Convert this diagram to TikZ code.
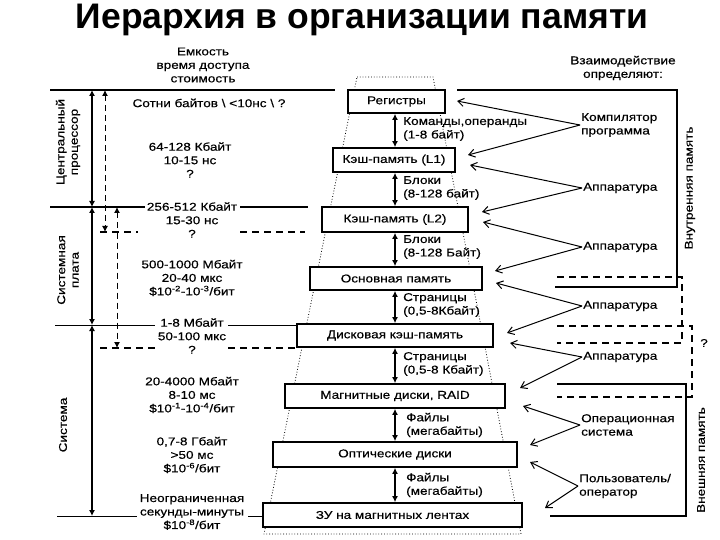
\documentclass[tikz,border=0pt]{standalone}
\usepackage{fontspec}
\setmainfont{Liberation Sans}
\newfontfamily\widefont[FakeStretch=1.2,FakeBold=0.4]{Liberation Sans}
\usetikzlibrary{arrows.meta}
\tikzset{
  base/.style={font=\widefont\fontsize{11.3}{13.5}\selectfont},
  membox/.style={base, draw, line width=1.8pt, fill=white, inner sep=0pt},
  lab/.style={base, align=center, inner sep=1pt},
  llab/.style={base, align=left, anchor=west, inner sep=1pt},
  dbl/.style={line width=1.1pt, {Latex[length=6pt,width=6pt]}-{Latex[length=6pt,width=6pt]}},
  dupar/.style={line width=1pt, dash pattern=on 6pt off 4pt, {Latex[length=6pt,width=6pt]}-{Latex[length=6pt,width=6pt]}},
  rar/.style={line width=1pt, -{Straight Barb[length=6pt,width=8pt]}},
  thickline/.style={line width=1.6pt},
  thinline/.style={line width=0.9pt},
  dline/.style={line width=1.3pt, dash pattern=on 7pt off 5pt},
  trap/.style={line width=0.8pt, dotted},
}
\begin{document}
\begin{tikzpicture}[x=1pt,y=-1pt]
\useasboundingbox (0,0) rectangle (720,540);

% title
\node[font=\fontsize{35.5}{38}\bfseries\selectfont] (title) at (362,20) {Иерархия в организации памяти};

% headers
\node[lab] (hdrL) at (203,65) {Емкость\\время доступа\\стоимость};
\node[lab] (hdrR) at (623,68) {Взаимодействие\\определяют:};

% dotted trapezoid
\draw[trap] (357,77) -- (433,77) -- (521,534) -- (264,534) -- cycle;

% memory boxes
\node[membox, minimum width=97pt, minimum height=23pt] (reg) at (396.5,101.5) {Регистры};
\node[membox, minimum width=122pt, minimum height=24pt] (l1) at (394,160) {Кэш-память (L1)};
\node[membox, minimum width=146pt, minimum height=25pt] (l2) at (395,219.5) {Кэш-память (L2)};
\node[membox, minimum width=172pt, minimum height=23pt] (ram) at (396,278.5) {Основная память};
\node[membox, minimum width=196pt, minimum height=23pt] (dc) at (395,335.5) {Дисковая кэш-память};
\node[membox, minimum width=220pt, minimum height=24pt] (mag) at (395,396) {Магнитные диски, RAID};
\node[membox, minimum width=244pt, minimum height=25pt] (opt) at (395,454.5) {Оптические диски};
\node[membox, minimum width=259pt, minimum height=24pt] (tape) at (392.5,515) {ЗУ на магнитных лентах};

% transfers between levels
\foreach \a/\b in {reg/l1, l1/l2, l2/ram, ram/dc, dc/mag, mag/opt, opt/tape}
  \draw[dbl] (\a.south -| 395,0) -- (\b.north -| 395,0);

\node[llab] (tr1) at (402,129) {Команды,операнды\\(1-8 байт)};
\node[llab] (tr2) at (402,188) {Блоки\\(8-128 байт)};
\node[llab] (tr3) at (402,247) {Блоки\\(8-128 Байт)};
\node[llab] (tr4) at (402,305) {Страницы\\(0,5-8Кбайт)};
\node[llab] (tr5) at (402,364) {Страницы\\(0,5-8 Кбайт)};
\node[llab] (tr6) at (405,425) {Файлы\\(мегабайты)};
\node[llab] (tr7) at (405,485) {Файлы\\(мегабайты)};

% left horizontal lines
\coordinate (h1a) at (50,90);   \coordinate (h1b) at (335,90);
\draw[thickline] (h1a) -- (h1b);
\coordinate (h2a) at (50,207);  \coordinate (h2b) at (145,207);
\coordinate (h2c) at (240,207); \coordinate (h2d) at (308,207);
\draw[thickline] (h2a) -- (h2b) (h2c) -- (h2d);
\coordinate (d1a) at (100,232); \coordinate (d1b) at (138,232);
\coordinate (d1c) at (240,232); \coordinate (d1d) at (305,232);
\draw[dline] (d1a) -- (d1b) (d1c) -- (d1d);
\coordinate (h3a) at (55,325);  \coordinate (h3b) at (155,325);
\coordinate (h3c) at (228,325); \coordinate (h3d) at (297,325);
\draw[thinline] (h3a) -- (h3b) (h3c) -- (h3d);
\coordinate (d2a) at (100,348); \coordinate (d2b) at (155,348);
\coordinate (d2c) at (228,348); \coordinate (d2d) at (297,348);
\draw[dline] (d2a) -- (d2b) (d2c) -- (d2d);
\coordinate (h4a) at (57,516);  \coordinate (h4b) at (137,516);
\coordinate (h4c) at (248,516); \coordinate (h4d) at (263,516);
\draw[thinline] (h4a) -- (h4b) (h4c) -- (h4d);

% left vertical arrows
\coordinate (v0) at (92,90); \coordinate (v1) at (92,207);
\coordinate (v2) at (92,325); \coordinate (v3) at (92,516);
\draw[dbl] (v0) -- (v1);
\draw[dbl] (v1) -- (v2);
\draw[dbl] (v2) -- (v3);
\coordinate (w0) at (105,90); \coordinate (w1) at (105,232);
\coordinate (u0) at (117,207); \coordinate (u1) at (117,348);
\draw[dupar] (w0) -- (w1);
\draw[dupar] (u0) -- (u1);

% left rotated labels
\node[lab, rotate=90] (cpu) at (68,142) {Центральный\\процессор};
\node[lab, rotate=90] (mb) at (68,270) {Системная\\плата};
\node[lab, rotate=90] (sys) at (63,425) {Система};

% left characteristics
\node[lab] (c1) at (209,103) {Сотни байтов \textbackslash\ <10нс \textbackslash\ ?};
\node[lab] (c2) at (190,160) {64-128 Кбайт\\10-15 нс\\?};
\node[lab] (c3) at (192,220) {256-512 Кбайт\\15-30 нс\\?};
\node[lab] (c4) at (192,278) {500-1000 Мбайт\\20-40 мкс\\\$10\textsuperscript{-2}-10\textsuperscript{-3}/бит};
\node[lab] (c5) at (192,336) {1-8 Мбайт\\50-100 мкс\\?};
\node[lab] (c6) at (192,395) {20-4000 Мбайт\\8-10 мс\\\$10\textsuperscript{-1}-10\textsuperscript{-4}/бит};
\node[lab] (c7) at (192,455) {0,7-8 Гбайт\\>50 мс\\\$10\textsuperscript{-6}/бит};
\node[lab] (c8) at (192,512) {Неограниченная\\секунды-минуты\\\$10\textsuperscript{-8}/бит};

% right frames
\draw[thickline] (457,90) -- (677,90) -- (677,287) -- (555,287);
\draw[dline] (557,277) -- (682,277) -- (682,343) -- (557,343);
\draw[dline] (557,326) -- (692,326) -- (692,397) -- (557,397);
\draw[thickline] (557,384) -- (686,384) -- (686,516) -- (550,516);

\node[lab, rotate=90] (inner) at (690,188) {Внутренняя память};
\node[lab, rotate=90] (outer) at (701,460) {Внешняя память};
\node[lab] (qm) at (704,343) {?};

% right agents
\node[llab] (comp) at (580,125) {Компилятор\\программа};
\node[llab] (hw1) at (582,188) {Аппаратура};
\node[llab] (hw2) at (582,247) {Аппаратура};
\node[llab] (hw3) at (582,306) {Аппаратура};
\node[llab] (hw4) at (582,357) {Аппаратура};
\node[llab] (os) at (580,425) {Операционная\\ система};
\node[llab] (usr) at (578,486) {Пользователь/\\оператор};

\coordinate (t1) at (457,101); \coordinate (t2) at (468,155);
\coordinate (t3) at (470,165); \coordinate (t4) at (482,212);
\coordinate (t5) at (483,222); \coordinate (t6) at (495,271);
\coordinate (t7) at (496,283); \coordinate (t8) at (507,333);
\coordinate (t9) at (510,343); \coordinate (t10) at (520,388);
\coordinate (t11) at (523,406); \coordinate (t12) at (530,445);
\coordinate (t13) at (530,462); \coordinate (t14) at (545,508);

\draw[rar] (comp.west) -- (t1);
\draw[rar] (comp.west) -- (t2);
\draw[rar] (hw1.west) -- (t3);
\draw[rar] (hw1.west) -- (t4);
\draw[rar] (hw2.west) -- (t5);
\draw[rar] (hw2.west) -- (t6);
\draw[rar] (hw3.west) -- (t7);
\draw[rar] (hw3.west) -- (t8);
\draw[rar] (hw4.west) -- (t9);
\draw[rar] (hw4.west) -- (t10);
\draw[rar] (os.west) -- (t11);
\draw[rar] (os.west) -- (t12);
\draw[rar] (usr.west) -- (t13);
\draw[rar] (usr.west) -- (t14);
\end{tikzpicture}
\end{document}
